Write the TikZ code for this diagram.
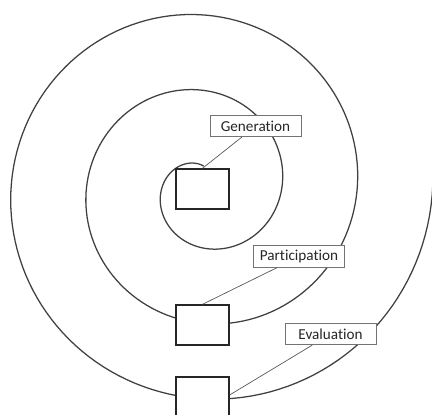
\documentclass[tikz,border=0pt]{standalone}
\usepackage{fontspec}
\setmainfont[Ligatures={NoCommon}]{Carlito}
\usepackage{tikz}
\usetikzlibrary{calc,positioning}
\tikzset{
  coil/.style={line width=0.9pt, black!75},
  stage/.style={rectangle, draw=black!85, line width=1pt, fill=white, minimum width=1.325cm, minimum height=1cm, inner sep=0pt},
  tag/.style={rectangle, draw=black!55, line width=0.5pt, fill=white, minimum width=2.27cm, minimum height=0.54cm, inner sep=0pt, font=\fontsize{10.8}{13}\selectfont, text=black!85},
  lead/.style={line width=0.5pt, black!65},
}

\begin{document}
\begin{tikzpicture}[x=0.025cm, y=-0.025cm]
  \useasboundingbox (0,0) rectangle (432,414);
  \clip (0,0) rectangle (432,414);

  % Spiral (three turns, growing outwards)
  \draw[coil] plot[domain=88:1083, samples=400, variable=\t]
    ({203+(3.45+0.20944*\t)*cos(\t)}, {188-(3.45+0.20944*\t)*sin(\t)});

  % Stage boxes on the spiral
  \node[stage] (gbox) at (202.5,189) {};
  \node[stage] (pbox) at (202.5,325) {};
  \node[stage] (ebox) at (202.5,397) {};

  % Labels
  \node[tag] (gen)  at (255.5,126) {Generation};
  \node[tag] (part) at (299,256.5) {Participation};
  \node[tag] (eval) at (330.5,334) {Evaluation};

  % Leaders
  \draw[lead] (gbox.north) -- ($(gen.south west)!0.35!(gen.south east)$);
  \draw[lead] (pbox.north) -- ($(part.south west)!0.26!(part.south east)$);
  \draw[lead] ($(ebox.north east)!0.45!(ebox.south east)$) -- ($(eval.south west)!0.3!(eval.south east)$);
\end{tikzpicture}
\end{document}
